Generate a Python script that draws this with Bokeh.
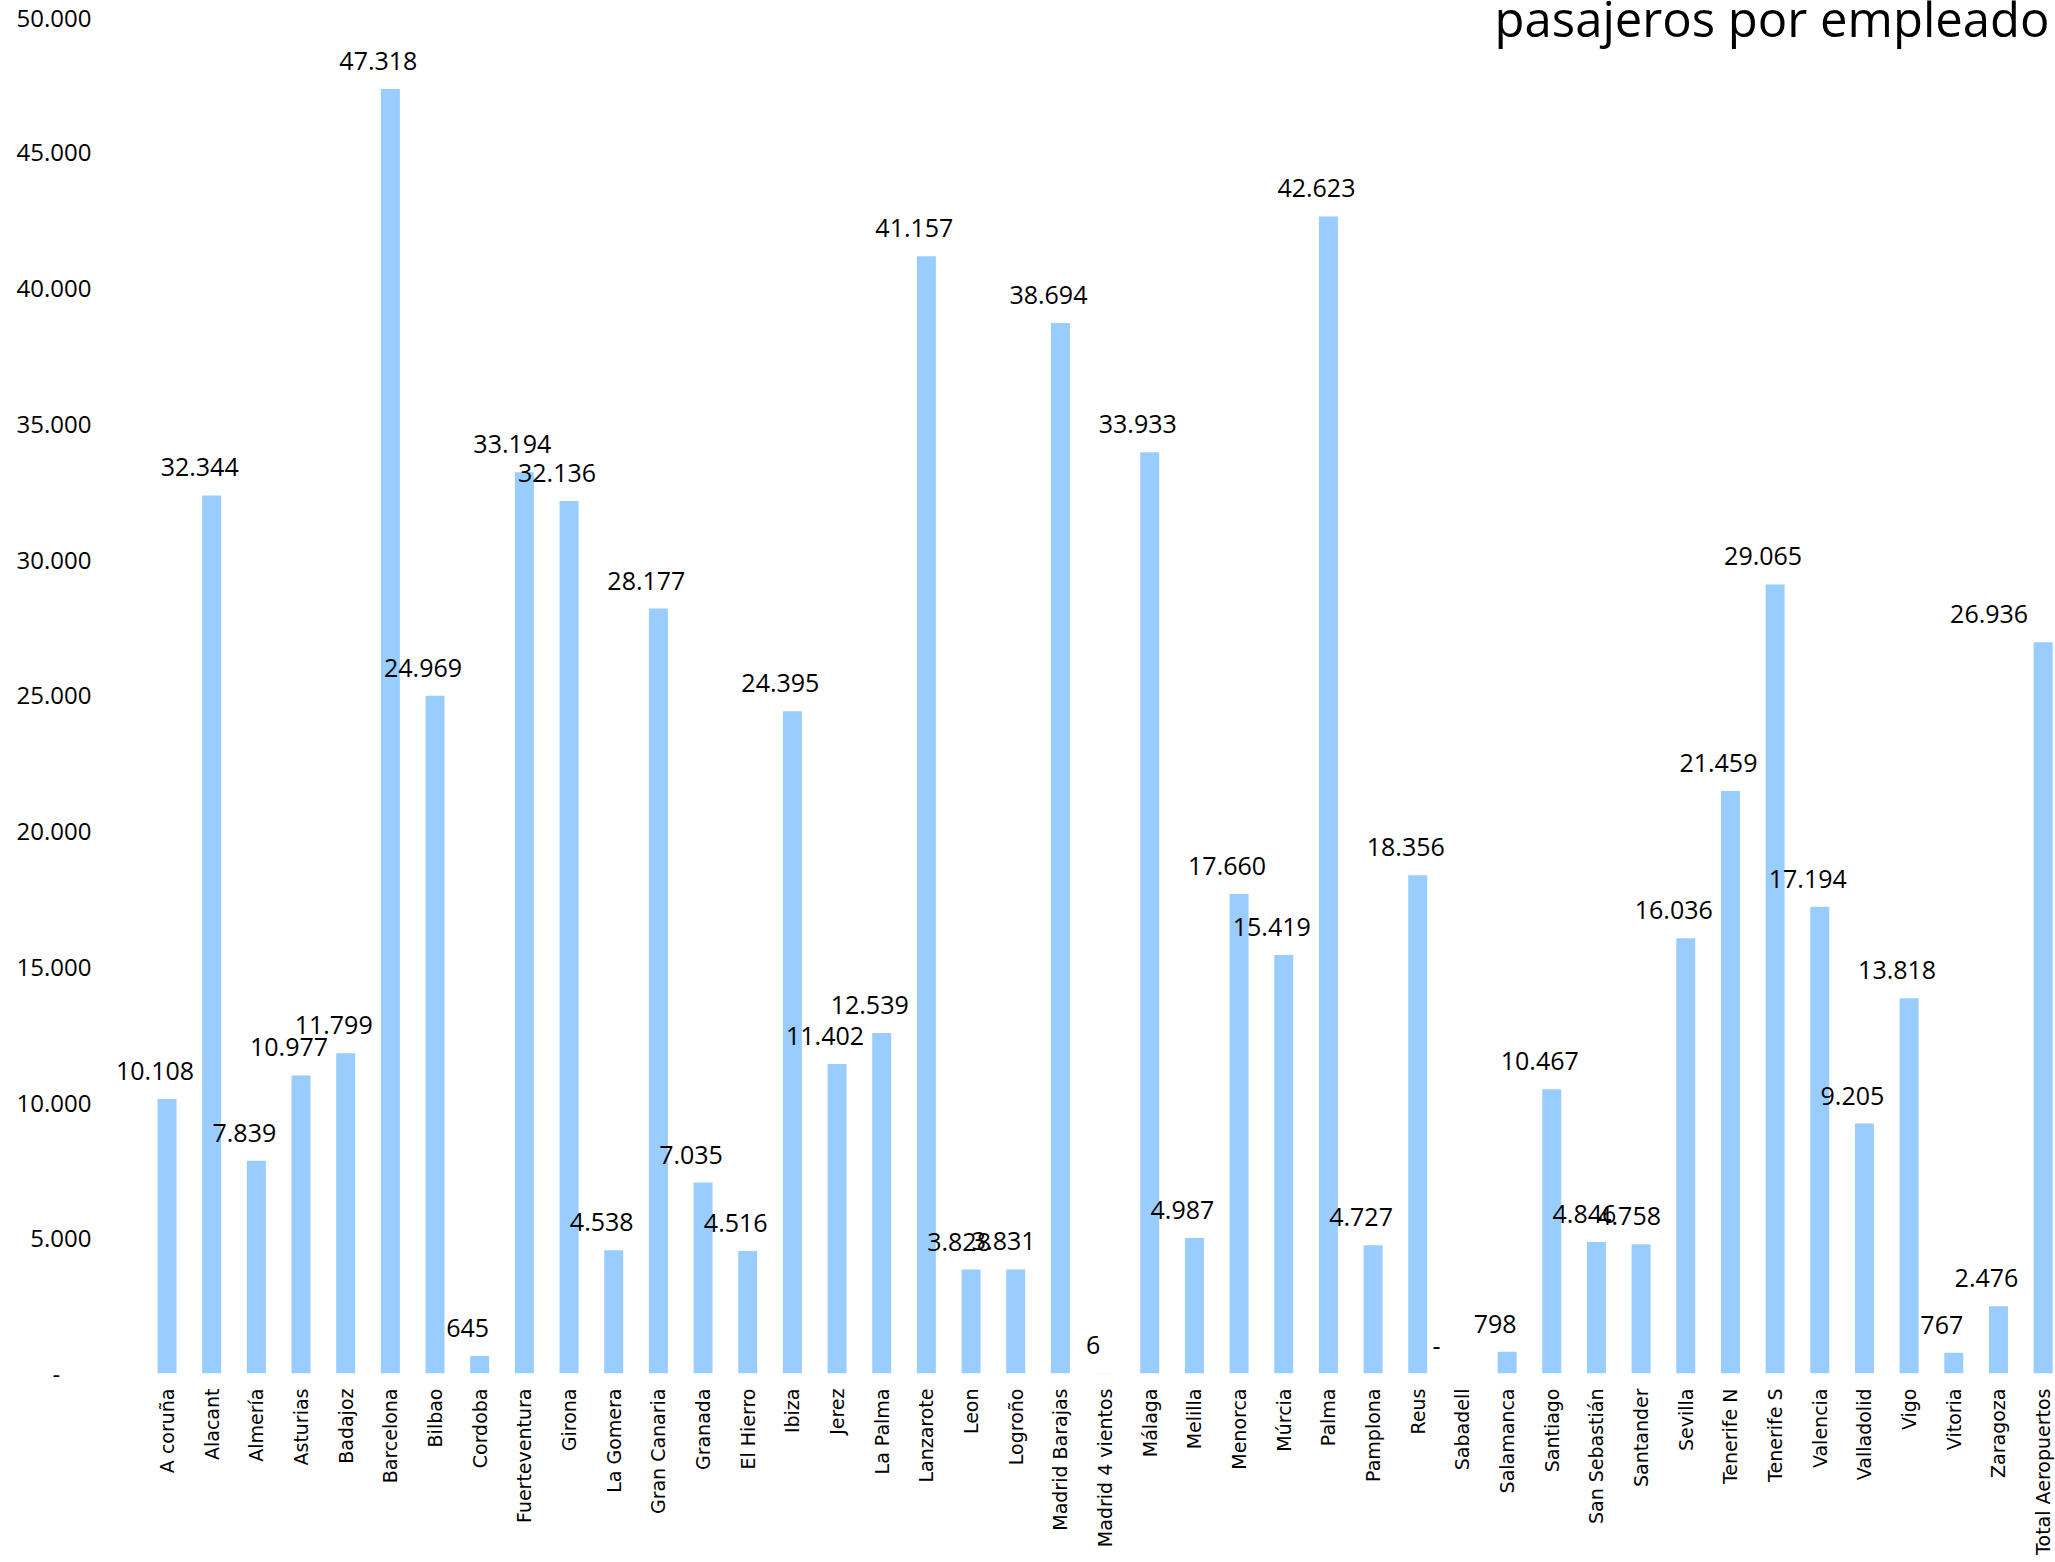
import math
from bokeh.plotting import figure
from bokeh.models import ColumnDataSource, Range1d, FixedTicker
from bokeh.core.properties import value
from bokeh.embed import file_html
from bokeh.resources import INLINE

# ---- data ----
airports = [
    "A coruña", "Alacant", "Almería", "Asturias", "Badajoz", "Barcelona", "Bilbao",
    "Cordoba", "Fuerteventura", "Girona", "La Gomera", "Gran Canaria", "Granada",
    "El Hierro", "Ibiza", "Jerez", "La Palma", "Lanzarote", "Leon", "Logroño",
    "Madrid Barajas", "Madrid 4 vientos", "Málaga", "Melilla", "Menorca", "Múrcia",
    "Palma", "Pamplona", "Reus", "Sabadell", "Salamanca", "Santiago", "San Sebastián",
    "Santander", "Sevilla", "Tenerife N", "Tenerife S", "Valencia", "Valladolid",
    "Vigo", "Vitoria", "Zaragoza", "Total Aeropuertos",
]
pasajeros_por_empleado = [
    10108, 32344, 7839, 10977, 11799, 47318, 24969,
    645, 33194, 32136, 4538, 28177, 7035,
    4516, 24395, 11402, 12539, 41157, 3828, 3831,
    38694, 6, 33933, 4987, 17660, 15419,
    42623, 4727, 18356, 0, 798, 10467, 4846,
    4758, 16036, 21459, 29065, 17194, 9205,
    13818, 767, 2476, 26936,
]
y_ticks = [0, 5000, 10000, 15000, 20000, 25000, 30000, 35000, 40000, 45000, 50000]
y_tick_labels = ["-", "5.000", "10.000", "15.000", "20.000", "25.000",
                 "30.000", "35.000", "40.000", "45.000", "50.000"]
title_text = "pasajeros por empleado"

# ---- derived ----
n = len(airports)
xs = list(range(n))
labels = ["-" if v == 0 else f"{v:,}".replace(",", ".") for v in pasajeros_por_empleado]
xoff = [(-26 if v == 0 else -12) for v in pasajeros_por_empleado]
xoff[-1] = -54  # keep last label inside the chart

src = ColumnDataSource(dict(x=xs, v=pasajeros_por_empleado, label=labels, xoff=xoff))

x_start, x_end = -1.489, 42.277
y_start, y_end = 0, 50575

p = figure(width=2055, height=1562, output_backend="svg", toolbar_location=None,
           x_range=Range1d(x_start, x_end), y_range=Range1d(y_start, y_end),
           min_border_left=100, min_border_right=0, min_border_top=0, min_border_bottom=189)
p.outline_line_color = None
p.grid.visible = False
p.background_fill_color = "white"

p.vbar(x="x", top="v", width=0.425, source=src, fill_color="#99CCFF", line_color=None)

p.text(x="x", y="v", text="label", source=src, x_offset="xoff", y_offset=-28,
       text_align="center", text_baseline="alphabetic",
       text_font=value("Open Sans"), text_font_size="25px", text_color="black")

p.text(x=[x_end], y=[y_end], text=[title_text], x_offset=-6, y_offset=17,
       text_align="right", text_baseline="alphabetic",
       text_font=value("Open Sans"), text_font_size="49px", text_color="black")

# y axis (zero shown as "-" padded like an accounting format)
ya = p.yaxis[0]
ya.ticker = FixedTicker(ticks=y_ticks)
overrides = dict(zip(y_ticks, y_tick_labels))
overrides[0] = "-" + "\u00a0" * 5
ya.major_label_overrides = overrides
ya.axis_line_color = None
ya.major_tick_line_color = None
ya.minor_tick_line_color = None
ya.major_tick_out = 0
ya.major_label_standoff = 9
ya.major_label_text_font = "Open Sans"
ya.major_label_text_font_size = "24px"
ya.major_label_text_color = "black"

# x axis
xa = p.xaxis[0]
xa.ticker = FixedTicker(ticks=xs)
xa.major_label_overrides = dict(zip(xs, airports))
xa.major_label_orientation = math.pi / 2
xa.axis_line_color = None
xa.major_tick_line_color = None
xa.minor_tick_line_color = None
xa.major_tick_out = 0
xa.major_label_standoff = 15
xa.major_label_text_font = "DejaVu Sans"
xa.major_label_text_font_size = "19px"
xa.major_label_text_color = "black"

open("out.html", "w").write(file_html(p, INLINE))
